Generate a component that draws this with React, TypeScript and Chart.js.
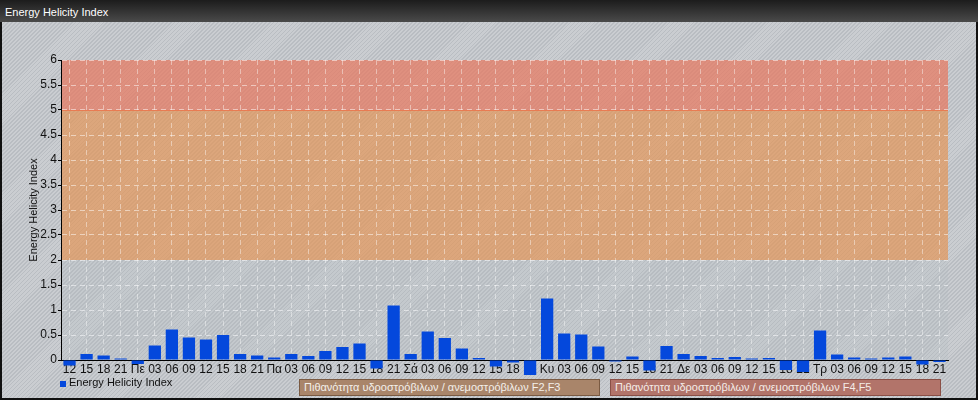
import React, { useEffect, useRef } from "react";
import { Chart, registerables } from "chart.js";

Chart.register(...registerables);

const categories = [
  "12", "15", "18", "21",
  "Πε", "03", "06", "09", "12", "15", "18", "21",
  "Πα", "03", "06", "09", "12", "15", "18", "21",
  "Σά", "03", "06", "09", "12", "15", "18", "21",
  "Κυ", "03", "06", "09", "12", "15", "18", "21",
  "Δε", "03", "06", "09", "12", "15", "18", "21",
  "Τρ", "03", "06", "09", "12", "15", "18", "21",
];

const helicity = [
  -0.11, 0.12, 0.09, 0.03,
  -0.08, 0.29, 0.61, 0.45, 0.41, 0.5, 0.12, 0.09,
  0.05, 0.12, 0.08, 0.18, 0.26, 0.33, -0.17, 1.09,
  0.12, 0.57, 0.44, 0.23, 0.04, -0.13, -0.05, -0.3,
  1.23, 0.53, 0.51, 0.27, -0.03, 0.07, -0.21, 0.28,
  0.12, 0.08, 0.04, 0.06, 0.03, 0.04, -0.2, -0.24,
  0.59, 0.11, 0.05, 0.03, 0.05, 0.07, -0.09, -0.04,
];

const bandFrom = [0, 2, 5];
const bandTo = [2, 5, 6];
const bandColors = [
  "rgba(175,183,192,0.2)",
  "rgba(228,148,84,0.68)",
  "rgba(232,118,92,0.7)",
];

const yMin = 0;
const yMax = 6;
const yStep = 0.5;

const seriesName = "Energy Helicity Index";
const legendBoxes = [
  "Πιθανότητα υδροστρόβιλων / ανεμοστρόβιλων F2,F3",
  "Πιθανότητα υδροστρόβιλων / ανεμοστρόβιλων F4,F5",
];

const FONT = "'Liberation Sans', Arial, sans-serif";

const bandsPlugin = {
  id: "bands",
  beforeDraw(chart: any) {
    const { ctx, chartArea, scales } = chart;
    const y = scales.y;
    ctx.save();
    for (let i = 0; i < bandFrom.length; i++) {
      const top = y.getPixelForValue(bandTo[i]);
      const bottom = y.getPixelForValue(bandFrom[i]);
      ctx.fillStyle = bandColors[i];
      ctx.fillRect(chartArea.left, top, chartArea.right - chartArea.left, bottom - top);
    }
    ctx.strokeStyle = "rgba(236,110,70,0.75)";
    ctx.lineWidth = 1;
    const y5 = Math.round(y.getPixelForValue(bandFrom[2])) + 0.5;
    ctx.beginPath();
    ctx.moveTo(chartArea.left, y5);
    ctx.lineTo(chartArea.right, y5);
    ctx.stroke();
    ctx.restore();
  },
};

export default function App() {
  const canvasRef = useRef<HTMLCanvasElement | null>(null);

  useEffect(() => {
    document.body.style.margin = "0";
    const canvas = canvasRef.current;
    if (!canvas) return;
    const chart = new Chart(canvas, {
      type: "bar",
      data: {
        labels: categories,
        datasets: [
          {
            label: seriesName,
            data: helicity,
            backgroundColor: "#0448dc",
            borderWidth: 0,
            clip: false as any,
          },
        ],
      },
      options: {
        animation: false,
        responsive: false,
        maintainAspectRatio: false,
        devicePixelRatio: 1,
        layout: { padding: { left: 0, right: 30, top: 60, bottom: 0 } },
        plugins: {
          legend: { display: false },
          tooltip: { enabled: false },
          title: { display: false },
        },
        scales: {
          x: {
            offset: true,
            grid: {
              offset: false,
              color: "rgba(255,255,255,0.42)",
              lineWidth: 1,
              drawTicks: false,
            },
            border: { display: true, color: "#000", width: 1, dash: [5, 4] },
            ticks: {
              autoSkip: false,
              maxRotation: 0,
              minRotation: 0,
              padding: 2,
              color: "#111",
              font: { family: FONT, size: 12 },
            },
            afterFit(scale: any) {
              scale.height = 40;
            },
          },
          y: {
            min: yMin,
            max: yMax,
            ticks: {
              stepSize: yStep,
              padding: 1,
              color: "#111",
              font: { family: FONT, size: 12 },
              callback: (v: any) => String(Math.round(Number(v) * 10) / 10),
            },
            grid: {
              color: "rgba(255,255,255,0.5)",
              lineWidth: 1,
              drawTicks: true,
              tickLength: 3,
              tickColor: "#000",
              tickBorderDash: [],
            },
            border: { display: true, color: "#000", width: 1, dash: [5, 4] },
            title: {
              display: true,
              text: seriesName,
              color: "#111",
              font: { family: FONT, size: 11 },
              padding: { top: 27, bottom: 0 },
            },
            afterFit(scale: any) {
              scale.width = 61;
            },
          },
        },
      },
      plugins: [bandsPlugin],
    });
    return () => chart.destroy();
  }, []);

  const hatch =
    "repeating-linear-gradient(135deg, #cacdd1 0px, #cacdd1 1.6px, #b9bdc2 1.6px, #b9bdc2 2.8px)";

  return (
    <div
      style={{
        position: "absolute",
        left: 0,
        top: 0,
        width: 978,
        height: 400,
        overflow: "hidden",
        fontFamily: FONT,
        background: hatch,
      }}
    >
      <div
        style={{
          position: "absolute",
          left: 0,
          top: 0,
          width: 978,
          height: 22,
          background: "linear-gradient(#1c1c1c, #4a4a4a)",
          color: "#fff",
          fontSize: 11,
          lineHeight: "24px",
          paddingLeft: 5,
          boxSizing: "border-box",
        }}
      >
        {seriesName}
      </div>
      <div
        style={{
          position: "absolute",
          left: 0,
          top: 22,
          width: 978,
          height: 378,
          boxSizing: "border-box",
          borderLeft: "2px solid #111",
          borderRight: "2px solid #111",
          borderBottom: "2px solid #111",
        }}
      />
      <canvas
        ref={canvasRef}
        width={978}
        height={400}
        style={{ position: "absolute", left: 0, top: 0, width: 978, height: 400 }}
      />
      <div
        style={{
          position: "absolute",
          left: 60,
          top: 375,
          height: 14,
          display: "flex",
          alignItems: "center",
          fontSize: 11,
          color: "#111",
        }}
      >
        <span
          style={{
            display: "inline-block",
            width: 6,
            height: 6,
            background: "#0448dc",
            marginRight: 3,
            marginTop: 3,
          }}
        />
        {seriesName}
      </div>
      <div
        style={{
          position: "absolute",
          left: 299,
          top: 379,
          width: 301,
          height: 17,
          boxSizing: "border-box",
          background: "#a9856a",
          border: "1px solid #7a5a42",
          color: "#f4f0ea",
          fontSize: 11,
          lineHeight: "15px",
          paddingLeft: 4,
          whiteSpace: "nowrap",
        }}
      >
        {legendBoxes[0]}
      </div>
      <div
        style={{
          position: "absolute",
          left: 610,
          top: 379,
          width: 331,
          height: 17,
          boxSizing: "border-box",
          background: "#b2746a",
          border: "1px solid #8a4f46",
          color: "#f4ece8",
          fontSize: 11,
          lineHeight: "15px",
          paddingLeft: 4,
          whiteSpace: "nowrap",
        }}
      >
        {legendBoxes[1]}
      </div>
    </div>
  );
}
